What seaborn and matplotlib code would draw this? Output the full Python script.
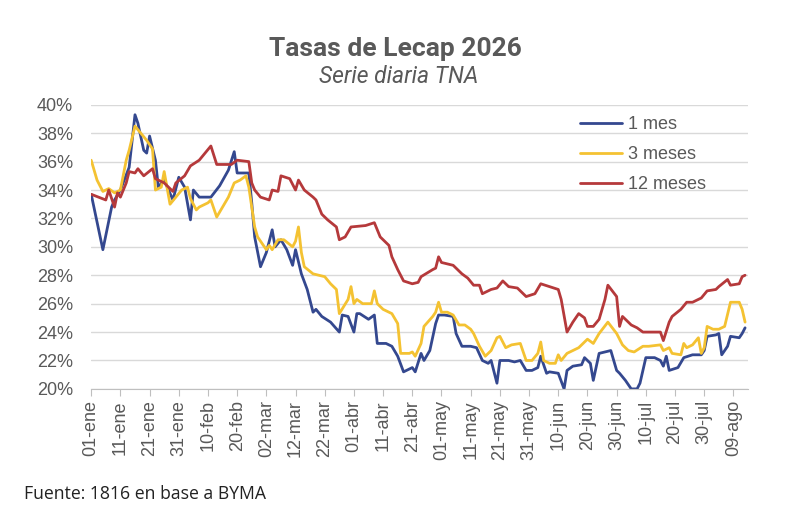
# %% bibliotecas
import pandas as pd
import matplotlib
matplotlib.use("Agg")
import matplotlib.pyplot as plt
import seaborn as sns

# %% datos (dias desde 01-ene-2025, tasa TNA en %)
dias_1m = [0, 4, 7, 8, 10, 13, 15, 16, 18, 19, 20, 22, 23, 25, 28, 30, 32, 34, 35, 37,
           41, 44, 47, 49, 50, 52, 54, 55, 56, 58, 60, 62, 63, 65, 67, 69, 70, 72, 74, 76,
           77, 79, 82, 85, 86, 88, 90, 91, 92, 95, 97, 98, 101, 103, 105, 107, 110, 111, 113, 114,
           116, 118, 119, 121, 124, 125, 127, 130, 132, 134, 136, 137, 139, 140, 143, 145, 147, 149, 151, 153,
           154, 156, 157, 160, 162, 163, 165, 168, 169, 171, 172, 174, 176, 178, 180, 181, 183, 185, 187, 188,
           190, 193, 195, 196, 197, 198, 201, 203, 206, 209, 210, 211, 214, 215, 216, 218, 219, 222, 223, 224]
tasa_1m = [33.7, 29.8, 32.8, 33.3, 34.0, 35.6, 39.3, 38.7, 36.8, 36.6, 37.8, 36.1, 34.2, 34.7, 33.3, 34.9, 34.2, 31.9, 34.0, 33.5,
           33.5, 34.3, 35.4, 36.7, 35.2, 35.2, 35.2, 33.1, 30.7, 28.6, 29.6, 31.2, 30.0, 30.5, 29.8, 28.7, 29.8, 28.1, 27.0, 25.4,
           25.6, 25.1, 24.7, 24.0, 25.2, 25.1, 24.0, 25.3, 25.3, 24.9, 25.2, 23.2, 23.2, 23.0, 22.3, 21.2, 21.5, 21.2, 22.5, 22.0,
           22.7, 24.6, 25.2, 25.2, 25.1, 23.9, 23.0, 23.0, 22.9, 22.0, 21.8, 22.0, 20.4, 22.0, 22.0, 21.9, 22.0, 21.3, 21.3, 21.5,
           22.3, 21.1, 21.2, 21.1, 20.0, 21.3, 21.6, 21.7, 22.2, 21.8, 20.6, 22.5, 22.6, 22.7, 21.3, 21.1, 20.6, 20.0, 20.0, 20.4,
           22.2, 22.2, 22.0, 21.6, 22.3, 21.3, 21.5, 22.2, 22.4, 22.4, 22.7, 23.7, 23.8, 23.9, 22.4, 23.0, 23.7, 23.6, 23.9, 24.3]

dias_3m = [0, 2, 4, 6, 8, 10, 12, 13, 15, 17, 19, 21, 22, 24, 25, 27, 29, 31, 33, 34,
           36, 37, 40, 41, 43, 47, 49, 51, 53, 54, 55, 56, 57, 60, 61, 62, 64, 66, 69, 70,
           71, 72, 73, 76, 78, 80, 82, 84, 85, 88, 89, 90, 91, 93, 96, 97, 98, 100, 103, 105,
           106, 109, 110, 111, 113, 114, 117, 118, 119, 120, 122, 124, 126, 128, 130, 131, 133, 135, 137, 139,
           140, 142, 144, 147, 149, 151, 153, 154, 155, 157, 159, 160, 161, 163, 165, 167, 170, 172, 174, 177,
           180, 182, 184, 186, 189, 191, 195, 196, 198, 199, 202, 203, 204, 206, 208, 209, 210, 211, 213, 215,
           217, 219, 222, 223, 224]
tasa_3m = [36.1, 34.7, 33.9, 34.1, 33.8, 34.0, 36.1, 36.8, 38.5, 38.0, 37.5, 36.9, 34.0, 34.2, 35.3, 33.0, 33.5, 34.0, 34.2, 33.4,
           32.6, 32.8, 33.1, 33.3, 32.1, 33.5, 34.5, 34.7, 35.0, 34.2, 32.8, 31.4, 30.7, 29.8, 30.1, 29.8, 30.5, 30.5, 30.0, 30.4,
           31.4, 29.6, 28.6, 28.1, 28.0, 27.9, 27.4, 27.0, 25.3, 26.3, 27.2, 26.0, 26.3, 26.0, 26.0, 26.9, 26.0, 25.6, 25.3, 24.6,
           22.5, 22.5, 22.6, 22.3, 23.2, 24.4, 25.1, 25.4, 26.1, 25.4, 25.4, 25.2, 24.5, 24.5, 24.2, 23.9, 23.0, 22.3, 22.7, 23.6,
           23.7, 22.9, 23.1, 23.2, 22.0, 22.0, 22.5, 23.3, 22.0, 21.8, 21.8, 22.4, 22.0, 22.5, 22.7, 22.9, 23.5, 23.2, 23.9, 24.7,
           23.9, 23.1, 22.7, 22.6, 23.0, 23.0, 23.1, 22.7, 22.9, 22.5, 22.4, 23.2, 22.9, 23.1, 23.6, 22.5, 22.9, 24.4, 24.2, 24.2,
           24.4, 26.1, 26.1, 25.6, 24.7]

dias_12m = [0, 5, 6, 8, 9, 10, 12, 13, 15, 16, 18, 21, 22, 25, 28, 29, 32, 34, 37, 41,
            43, 48, 50, 54, 55, 56, 58, 61, 62, 64, 65, 68, 70, 71, 73, 76, 77, 79, 81, 84,
            85, 87, 89, 94, 97, 99, 102, 103, 105, 107, 110, 112, 113, 117, 118, 119, 120, 124, 127, 129,
            131, 133, 134, 137, 139, 141, 143, 146, 149, 152, 154, 157, 160, 161, 163, 165, 167, 169, 170, 172,
            174, 176, 177, 180, 181, 182, 185, 187, 189, 194, 195, 196, 198, 199, 202, 204, 206, 209, 211, 214,
            215, 218, 219, 222, 223, 224]
tasa_12m = [33.7, 33.3, 34.0, 32.8, 33.8, 33.5, 34.5, 35.3, 35.2, 35.5, 35.0, 35.5, 34.8, 34.5, 33.9, 34.5, 35.0, 35.7, 36.1, 37.1,
            35.8, 35.8, 36.1, 36.0, 34.5, 34.0, 33.5, 33.3, 34.0, 33.9, 35.0, 34.8, 34.0, 34.7, 34.0, 33.5, 33.3, 32.3, 31.9, 31.4,
            30.5, 30.7, 31.4, 31.5, 31.7, 30.7, 30.1, 29.3, 28.4, 27.6, 27.4, 27.5, 27.9, 28.4, 28.5, 29.3, 28.9, 28.7, 28.1, 27.8,
            27.3, 27.3, 26.7, 27.0, 27.1, 27.6, 27.2, 27.1, 26.5, 26.7, 27.4, 27.2, 27.0, 26.3, 24.0, 24.7, 25.3, 25.0, 24.4, 24.4,
            24.9, 26.3, 27.3, 26.5, 24.4, 25.1, 24.5, 24.3, 24.0, 24.0, 24.0, 23.4, 24.7, 25.1, 25.6, 26.1, 26.1, 26.4, 26.9, 27.0,
            27.2, 27.7, 27.3, 27.4, 27.9, 28.0]

series = ["1 mes", "3 meses", "12 meses"]
colores = ["#34488F", "#F4C232", "#B5393B"]
meses = ["ene", "feb", "mar", "abr", "may", "jun", "jul", "ago", "sep", "oct", "nov", "dic"]

inicio = pd.Timestamp("2025-01-01")


def armar_df(dias, tasas, nombre):
    df = pd.DataFrame({"dia": dias, "tasa": tasas})
    df["fecha"] = inicio + pd.to_timedelta(df["dia"], unit="D")
    df["plazo"] = nombre
    return df


datos = pd.concat([
    armar_df(dias_1m, tasa_1m, series[0]),
    armar_df(dias_3m, tasa_3m, series[1]),
    armar_df(dias_12m, tasa_12m, series[2]),
], ignore_index=True)

# %% grafico
sns.set_style("whitegrid")
plt.rcParams["font.family"] = ["Liberation Sans", "DejaVu Sans"]

gris = "#595959"
fig = plt.figure(figsize=(8, 5.32), dpi=100)
ax = fig.add_axes([0.114, 0.269, 0.821, 0.534])

sns.lineplot(data=datos, x="fecha", y="tasa", hue="plazo", hue_order=series,
             palette=colores, linewidth=2, ax=ax, estimator=None, sort=True)

ax.set_ylim(20, 40)
ax.set_yticks(range(20, 41, 2))
ax.set_yticklabels([f"{v}%" for v in range(20, 41, 2)], fontsize=13, color=gris)
ax.set_xlim(inicio, inicio + pd.Timedelta(days=225))

ticks = pd.date_range(inicio, "2025-08-09", freq="10D")
ax.set_xticks(ticks)
ax.set_xticklabels([f"{d.day:02d}-{meses[d.month - 1]}" for d in ticks],
                   rotation=90, fontsize=13, color=gris)

ax.set_xlabel("")
ax.set_ylabel("")
ax.grid(axis="x", visible=False)
ax.grid(axis="y", color="#d9d9d9", linewidth=1)
for lado in ["left", "right", "top"]:
    ax.spines[lado].set_visible(False)
ax.spines["bottom"].set_color("#bfbfbf")
ax.tick_params(axis="x", length=5, color="#bfbfbf", direction="out", pad=3, bottom=True)
ax.tick_params(axis="y", length=0, pad=13)

ax.legend(title=None, loc="upper left", bbox_to_anchor=(0.744, 0.96), frameon=False,
          fontsize=13, handlelength=2.35, handletextpad=0.33, labelspacing=0.72,
          borderpad=0, borderaxespad=0, labelcolor=gris)

fig.text(0.494, 0.895, "Tasas de Lecap 2026", ha="center", va="baseline", fontsize=19,
         fontweight="bold", color=gris, family=["Roboto", "DejaVu Sans"])
fig.text(0.498, 0.844, "Serie diaria TNA", ha="center", va="baseline", fontsize=16.5,
         style="italic", color=gris, family=["Roboto", "DejaVu Sans"])
fig.text(0.03, 0.072, "Fuente: 1816 en base a BYMA", ha="left", va="center",
         fontsize=12.7, color="#222222", family=["Open Sans", "DejaVu Sans"])

plt.savefig("out.png", dpi=100)
